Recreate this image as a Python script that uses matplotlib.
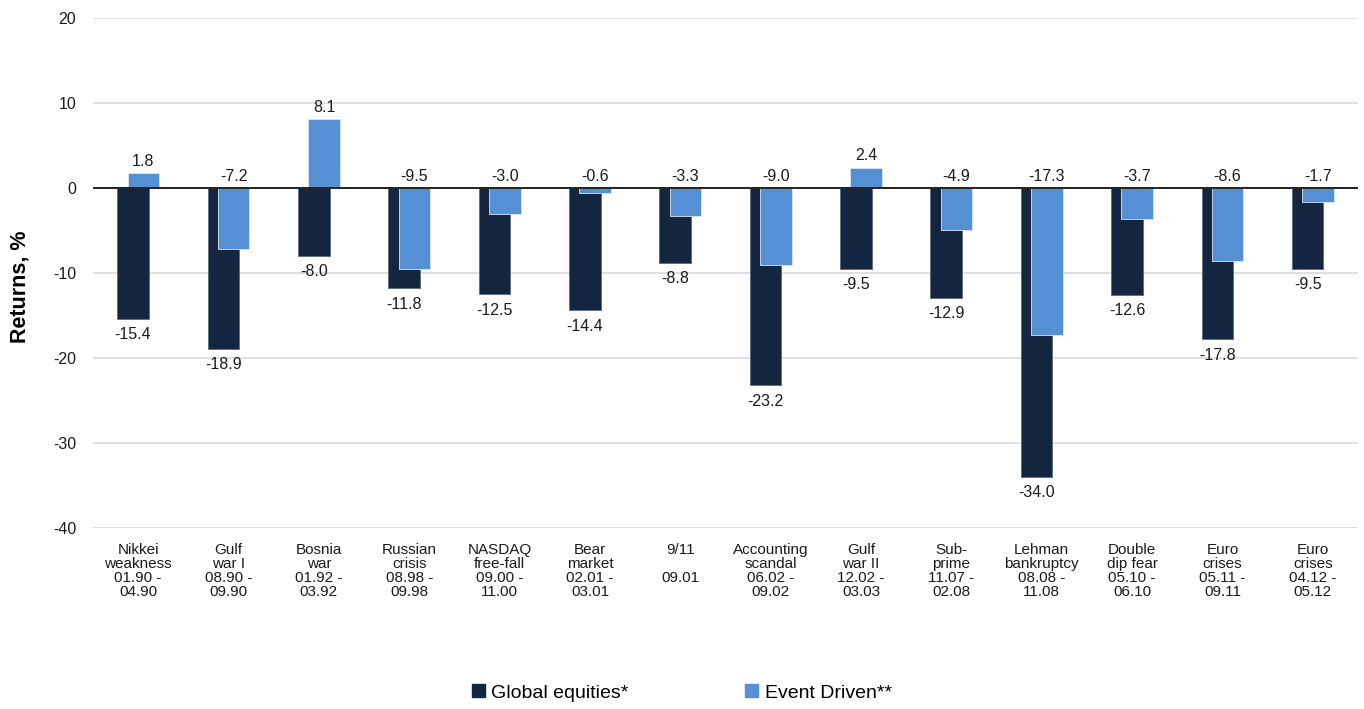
import numpy as np
import matplotlib
import matplotlib.pyplot as plt
from matplotlib.patches import Patch

matplotlib.use('agg')
plt.rcParams['font.family'] = ['Liberation Sans Narrow', 'Liberation Sans', 'DejaVu Sans']
plt.rcParams['axes.unicode_minus'] = False

categories = [
    "Nikkei\nweakness\n01.90 -\n04.90",
    "Gulf\nwar I\n08.90 -\n09.90",
    "Bosnia\nwar\n01.92 -\n03.92",
    "Russian\ncrisis\n08.98 -\n09.98",
    "NASDAQ\nfree-fall\n09.00 -\n11.00",
    "Bear\nmarket\n02.01 -\n03.01",
    "9/11\n\n09.01\n",
    "Accounting\nscandal\n06.02 -\n09.02",
    "Gulf\nwar II\n12.02 -\n03.03",
    "Sub-\nprime\n11.07 -\n02.08",
    "Lehman\nbankruptcy\n08.08 -\n11.08",
    "Double\ndip fear\n05.10 -\n06.10",
    "Euro\ncrises\n05.11 -\n09.11",
    "Euro\ncrises\n04.12 -\n05.12",
]
global_equities = [-15.4, -18.9, -8.0, -11.8, -12.5, -14.4, -8.8, -23.2, -9.5, -12.9, -34.0, -12.6, -17.8, -9.5]
event_driven = [1.8, -7.2, 8.1, -9.5, -3.0, -0.6, -3.3, -9.0, 2.4, -4.9, -17.3, -3.7, -8.6, -1.7]

dark = '#13253f'
light = '#5590d4'

fig = plt.figure(figsize=(13.64, 7.09), dpi=100)
ax = fig.add_axes([93 / 1364, 1 - 528 / 709, 1265 / 1364, 510 / 709])

x = np.arange(len(categories))
w = 0.35
off = 0.057
ax.bar(x - off, global_equities, w, color=dark, edgecolor='#5b6a80', linewidth=0.6, zorder=2)
ax.bar(x + off, event_driven, w, color=light, edgecolor='#dbe6f4', linewidth=0.6, zorder=3)

# value labels: equities below bar, event driven above zero line / bar top
for i in x:
    ge = global_equities[i]
    ax.annotate(f"{ge:.1f}", (i - off, ge), xytext=(0, -6), textcoords='offset points',
                ha='center', va='top', fontsize=11.5, color='#1a1a1a')
    ed = event_driven[i]
    ax.annotate(f"{ed:.1f}", (i + off, max(ed, 0)), xytext=(0, 3), textcoords='offset points',
                ha='center', va='bottom', fontsize=11.5, color='#1a1a1a')

ax.set_xlim(-0.5, len(categories) - 0.5)
ax.set_ylim(-40, 20)
ax.set_yticks(range(-40, 21, 10))
ax.yaxis.grid(True, color='#d9d9d9', linewidth=1.2, zorder=0)
ax.set_axisbelow(True)
ax.axhline(0, color='#222222', linewidth=1.4, zorder=4)
for s in ax.spines.values():
    s.set_visible(False)
ax.tick_params(axis='y', length=0, pad=12, labelsize=11.5, labelcolor='#1a1a1a')
ax.tick_params(axis='x', length=0, pad=11, labelsize=11, labelcolor='#1a1a1a')
ax.set_xticks(x)
ax.set_xticklabels(categories, linespacing=1.0)
ax.set_ylabel("Returns, %", fontsize=15.5, fontweight='bold', va='center',
              family=['Liberation Sans', 'DejaVu Sans'])
ax.yaxis.set_label_coords(-73 / 1265, (528 - 287) / 510)

handles = [Patch(color=dark, label='Global equities*'), Patch(color=light, label='Event Driven**')]
fig.legend(handles=handles, loc='center', bbox_to_anchor=(0.5, 1 - 693 / 709), ncol=2,
           frameon=False, fontsize=14, handlelength=0.65, handleheight=0.65,
           handletextpad=0.35, columnspacing=6.0)

fig.savefig('out.png', dpi=100)
